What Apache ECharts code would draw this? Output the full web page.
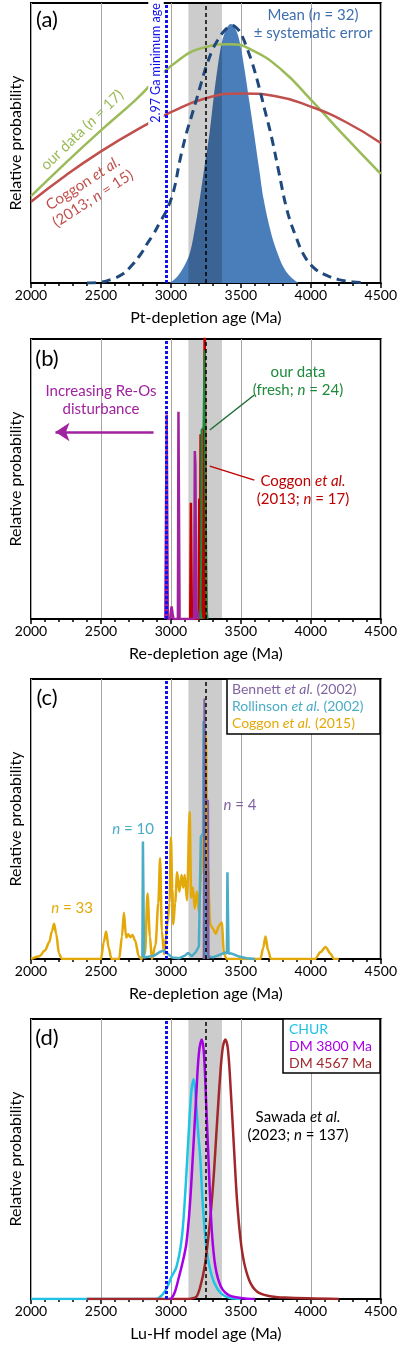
<!DOCTYPE html>
<html>
<head>
<meta charset="utf-8">
<script src="https://cdn.jsdelivr.net/npm/echarts@6/dist/echarts.min.js"></script>
<style>
  html, body { margin: 0; padding: 0; background: #fff; }
  #main { width: 400px; height: 1351px; }
</style>
</head>
<body>
<div id="main"></div>
<script>
const FONT = 'Lato, "Open Sans", sans-serif';

// x axis ticks (Ma)
const ageTicks = [2000, 2500, 3000, 3500, 4000, 4500];
const minAge = 2967;       // 2.97 Ga minimum age
const meanAge = 3248;      // dashed black line
const bandAge = [3125, 3365];

// (a) Pt-depletion ages
const aMeanAge = [2990, 3030, 3064, 3100, 3135, 3170, 3205, 3240, 3276, 3305, 3335, 3360, 3382, 3405, 3429, 3450, 3476, 3500, 3523, 3560, 3594, 3630, 3664, 3717, 3760, 3804, 3850, 3910];
const aMeanVal = [0, 0.015, 0.035, 0.065, 0.106, 0.19, 0.296, 0.415, 0.535, 0.66, 0.773, 0.85, 0.89, 0.915, 0.925, 0.915, 0.89, 0.84, 0.773, 0.65, 0.535, 0.41, 0.296, 0.177, 0.11, 0.057, 0.025, 0];
const aErrAge = [2400, 2500, 2570, 2650, 2710, 2780, 2830, 2876, 2925, 2970, 3020, 3065, 3111, 3150, 3182, 3220, 3252, 3295, 3335, 3390, 3441, 3480, 3511, 3550, 3582, 3630, 3670, 3720, 3770, 3830, 3890, 3950, 4020, 4100, 4200, 4300, 4400];
const aErrVal = [0, 0.003, 0.012, 0.03, 0.057, 0.1, 0.14, 0.175, 0.22, 0.26, 0.33, 0.44, 0.535, 0.6, 0.654, 0.72, 0.773, 0.83, 0.868, 0.905, 0.92, 0.905, 0.88, 0.83, 0.785, 0.7, 0.62, 0.52, 0.4, 0.26, 0.17, 0.1, 0.055, 0.03, 0.012, 0.004, 0];
const aGreenAge = [2000, 2250, 2500, 2750, 3000, 3250, 3420, 3580, 3794, 4000, 4250, 4500];
const aGreenVal = [0.31, 0.43, 0.545, 0.655, 0.775, 0.843, 0.853, 0.832, 0.76, 0.655, 0.52, 0.39];
const aRedAge = [2000, 2250, 2500, 2750, 3000, 3250, 3500, 3750, 4000, 4250, 4500];
const aRedVal = [0.29, 0.385, 0.47, 0.545, 0.61, 0.66, 0.677, 0.667, 0.63, 0.575, 0.5];

// (b) Re-depletion ages
const bPurpleAge = [2960, 2968, 2970, 2975, 2978, 2995, 3000, 3005, 3012, 3018, 3050, 3054, 3058, 3062, 3166, 3171, 3175, 3178, 3182, 3188, 3193, 3200];
const bPurpleVal = [0, 0, 0.73, 0.73, 0, 0, 0.03, 0.045, 0.02, 0, 0, 0.74, 0.74, 0, 0, 0.6, 0.55, 0.3, 0, 0.03, 0.01, 0];
const bRedAge = [3138, 3143, 3146, 3150, 3198, 3203, 3206, 3209, 3212, 3217, 3222, 3236, 3241, 3249, 3253];
const bRedVal = [0, 0.415, 0.415, 0, 0, 0.43, 0.05, 0.2, 0.66, 0.66, 0.05, 0, 1.05, 1.05, 0];
const bGreenAge = [3210, 3216, 3219, 3226, 3233, 3238, 3240, 3249, 3252, 3256, 3262];
const bGreenVal = [0, 0.2, 0.675, 0.68, 0.685, 0.69, 0.96, 0.96, 0.15, 0.04, 0];

// (c) Re-depletion ages, literature
const cGoldAge = [2000, 2060, 2100, 2130, 2150, 2165, 2180, 2200, 2220, 2500, 2520, 2537, 2555, 2575, 2630, 2650, 2664, 2680, 2695, 2710, 2725, 2745, 2770, 2790, 2815, 2833, 2850, 2864, 2890, 2910, 2923, 2935, 2951, 2965, 2975, 2990, 3000, 3010, 3017, 3030, 3045, 3060, 3076, 3088, 3099, 3115, 3134, 3145, 3158, 3170, 3186, 3200, 3215, 3232, 3250, 3262, 3281, 3299, 3320, 3345, 3363, 3380, 3400, 3640, 3660, 3676, 3695, 3715, 4030, 4070, 4105, 4140, 4165, 4200];
const cGoldVal = [0, 0.01, 0.03, 0.06, 0.1, 0.126, 0.09, 0.02, 0, 0, 0.06, 0.098, 0.04, 0, 0, 0.08, 0.165, 0.076, 0.088, 0.078, 0.086, 0.065, 0.01, 0, 0.02, 0.234, 0.08, 0, 0.05, 0.2, 0.36, 0.1, 0.017, 0.08, 0.124, 0.2, 0.434, 0.25, 0.124, 0.2, 0.31, 0.24, 0.3, 0.255, 0.3, 0.21, 0.525, 0.22, 0.255, 0.18, 0.24, 0.17, 0.3, 0.45, 0.8, 0.35, 0.124, 0.11, 0.09, 0.12, 0.13, 0.017, 0, 0, 0.04, 0.08, 0.03, 0, 0, 0.025, 0.043, 0.02, 0, 0];
const cTealAge = [2796, 2800, 2804, 2808, 2818, 2880, 2920, 2946, 2975, 3010, 3060, 3100, 3123, 3150, 3178, 3200, 3210, 3214, 3218, 3224, 3230, 3233, 3239, 3243, 3255, 3300, 3350, 3382, 3400, 3404, 3408, 3412, 3430, 3480, 3540, 3600];
const cTealVal = [0.005, 0.42, 0.42, 0.005, 0.005, 0.012, 0.025, 0.03, 0.02, 0.005, 0.003, 0.012, 0.022, 0.01, 0.025, 0.045, 0.04, 0.435, 0.44, 0.44, 0.45, 0.85, 0.85, 0.03, 0.01, 0.006, 0.015, 0.023, 0.02, 0.31, 0.31, 0.02, 0.02, 0.01, 0.003, 0];
const cPurpleAge = [3234, 3239, 3241, 3247, 3250, 3266, 3270];
const cPurpleVal = [0, 0.93, 0.935, 0.93, 0.566, 0.566, 0];

// (d) Lu-Hf model ages
const dCyanAge = [2000, 2900, 2923, 2946, 2975, 3005, 3040, 3076, 3099, 3123, 3146, 3163, 3177, 3194, 3210, 3229, 3252, 3276, 3311, 3358, 3417, 3500];
const dCyanVal = [0, 0, 0.008, 0.02, 0.044, 0.08, 0.115, 0.21, 0.35, 0.556, 0.74, 0.785, 0.72, 0.6, 0.5, 0.33, 0.19, 0.115, 0.056, 0.02, 0.004, 0];
const dMagAge = [2990, 3005, 3029, 3052, 3088, 3111, 3135, 3158, 3182, 3200, 3220, 3236, 3252, 3271, 3292, 3318, 3358, 3417, 3511, 3600];
const dMagVal = [0, 0.003, 0.026, 0.068, 0.14, 0.2, 0.33, 0.52, 0.735, 0.877, 0.927, 0.877, 0.7, 0.47, 0.246, 0.115, 0.044, 0.013, 0.003, 0];
const dBrownAge = [2400, 3100, 3150, 3182, 3210, 3241, 3276, 3304, 3328, 3351, 3370, 3389, 3408, 3429, 3453, 3476, 3511, 3559, 3617, 3700, 3815, 4200];
const dBrownVal = [0, 0, 0.002, 0.008, 0.044, 0.115, 0.26, 0.425, 0.615, 0.79, 0.895, 0.927, 0.89, 0.735, 0.52, 0.33, 0.163, 0.068, 0.026, 0.011, 0.005, 0];

const xNames = ['Pt-depletion age (Ma)', 'Re-depletion age (Ma)', 'Re-depletion age (Ma)', 'Lu-Hf model age (Ma)'];
const tops = [3, 339, 679, 1019];

function pairs(xs, ys) {
  return xs.map((x, i) => [x, ys[i]]);
}

function curve(g, xs, ys, color, width, extra) {
  return Object.assign({
    type: 'line', xAxisIndex: g, yAxisIndex: g,
    data: pairs(xs, ys), showSymbol: false, smooth: false, z: 3,
    lineStyle: { color: color, width: width }, silent: true, animation: false
  }, extra || {});
}

function band(g) {
  return {
    type: 'line', xAxisIndex: g, yAxisIndex: g, data: [], z: 2, silent: true, animation: false,
    markArea: { silent: true, z: 2, itemStyle: { color: 'rgba(0,0,0,0.2)' },
      data: [[{ xAxis: bandAge[0] }, { xAxis: bandAge[1] }]] }
  };
}

function refLines(g) {
  return {
    type: 'line', xAxisIndex: g, yAxisIndex: g, data: [], z: 6, silent: true, animation: false,
    markLine: { silent: true, z: 6, symbol: 'none', label: { show: false }, animation: false,
      data: [
        { xAxis: minAge, lineStyle: { color: '#1010f0', width: 3, type: [3, 2] } },
        { xAxis: meanAge, lineStyle: { color: '#000', width: 1.5, type: [4, 3] } }
      ] }
  };
}

function label(x, y, str, color, o) {
  o = o || {};
  const size = o.size || 15;
  return {
    type: 'text', x: x, y: y, z: o.z || 10, rotation: o.rot || 0, silent: true,
    style: {
      text: str, fill: color, fontSize: size, fontFamily: FONT,
      align: o.align || 'center', verticalAlign: 'middle',
      lineHeight: o.lh || size + 3,
      backgroundColor: o.bg, padding: o.pad,
      rich: { i: { fontStyle: 'italic', fontSize: size, fontFamily: FONT, fill: color, lineHeight: o.lh || size + 3 } }
    }
  };
}

const grids = [], xAxes = [], yAxes = [];
tops.forEach((t, i) => {
  grids.push({ left: 26, right: 19, top: t, height: 280, show: true, borderColor: '#000', borderWidth: 2 });
  xAxes.push({
    type: 'value', gridIndex: i, min: 2000, max: 4500, interval: 500,
    name: xNames[i], nameLocation: 'middle', nameGap: 27,
    nameTextStyle: { fontSize: 16, color: '#000', fontFamily: FONT },
    axisLine: { lineStyle: { color: '#000', width: 2 } },
    axisTick: { length: 5, lineStyle: { color: '#000', width: 1.5 } },
    minorTick: { show: true, splitNumber: 5, length: 3, lineStyle: { color: '#000', width: 1.5 } },
    axisLabel: { fontSize: 14, color: '#000', fontFamily: FONT, margin: 5,
      formatter: v => ageTicks.indexOf(v) >= 0 ? String(v) : '' },
    splitLine: { show: true, lineStyle: { color: '#a6a6a6', width: 1 } }
  });
  yAxes.push({
    type: 'value', gridIndex: i, min: 0, max: 1,
    name: 'Relative probability', nameLocation: 'middle', nameGap: 7,
    nameTextStyle: { fontSize: 16, color: '#000', fontFamily: FONT },
    axisLine: { show: false }, axisTick: { show: false }, axisLabel: { show: false },
    splitLine: { show: false }
  });
});

const series = [
  // (a)
  curve(0, aMeanAge, aMeanVal, '#4a7ebb', 0, { smooth: 0.4, z: 1, areaStyle: { color: '#4a7ebb', opacity: 1 } }),
  band(0),
  curve(0, aGreenAge, aGreenVal, '#9bbb59', 2.5, { smooth: 0.5 }),
  curve(0, aRedAge, aRedVal, '#c0504d', 2.5, { smooth: 0.5 }),
  curve(0, aErrAge, aErrVal, '#1f497d', 3, { smooth: 0.4, lineStyle: { color: '#1f497d', width: 3, type: [9, 6] } }),
  refLines(0),
  // (b)
  band(1),
  curve(1, bRedAge, bRedVal, '#c00000', 2.5),
  curve(1, bPurpleAge, bPurpleVal, '#a0229f', 2.5),
  curve(1, bGreenAge, bGreenVal, '#1e8a3c', 2, { areaStyle: { color: '#1e8a3c', opacity: 1 } }),
  refLines(1),
  {
    type: 'line', xAxisIndex: 1, yAxisIndex: 1, data: [], z: 7, silent: true, animation: false,
    markLine: { silent: true, z: 7, symbol: 'none', label: { show: false }, animation: false,
      data: [
        [{ coord: [2876, 0.668], symbol: 'none', lineStyle: { color: '#a0229f', width: 2.5, type: 'solid' } },
         { coord: [2175, 0.668], symbol: 'arrow', symbolSize: 14 }],
        [{ coord: [3596, 0.8], lineStyle: { color: '#1e6e34', width: 1.5, type: 'solid' } }, { coord: [3278, 0.675] }],
        [{ coord: [3596, 0.496], lineStyle: { color: '#c00000', width: 1.5, type: 'solid' } }, { coord: [3278, 0.546] }]
      ] }
  },
  // (c)
  band(2),
  curve(2, cGoldAge, cGoldVal, '#e3a90a', 2.5, { smooth: 0.3, smoothMonotone: 'x' }),
  curve(2, cTealAge, cTealVal, '#4bacc6', 2.5),
  curve(2, cPurpleAge, cPurpleVal, '#8064a2', 2, { areaStyle: { color: '#8064a2', opacity: 1 } }),
  refLines(2),
  // (d)
  band(3),
  curve(3, dCyanAge, dCyanVal, '#1fc3e6', 2.5, { smooth: 0.35 }),
  curve(3, dBrownAge, dBrownVal, '#a0282a', 2.5, { smooth: 0.35 }),
  curve(3, dMagAge, dMagVal, '#a800e6', 2.5, { smooth: 0.35 }),
  refLines(3)
];

const graphics = [
  // panel letters
  label(47, 20, '(a)', '#000', { size: 22 }),
  label(47, 359, '(b)', '#000', { size: 22 }),
  label(47, 698, '(c)', '#000', { size: 22 }),
  label(47, 1038, '(d)', '#000', { size: 22 }),
  // (a)
  label(156, 63, '2.97 Ga minimum age', '#1010f0', { size: 12.5, rot: Math.PI / 2, z: 4, bg: '#fff', pad: [0, 3, 0, 3] }),
  label(313, 24, 'Mean ({i|n} = 32)\n± systematic error', '#3f6fae', { size: 15, lh: 18 }),
  label(82, 130, 'our data ({i|n} = 17)', '#9bbb59', { size: 15, rot: 44 * Math.PI / 180 }),
  label(88, 191, 'Coggon {i|et al.}\n(2013; {i|n} = 15)', '#c0504d', { size: 15, lh: 18, rot: 33 * Math.PI / 180 }),
  // (b)
  label(298, 381, 'our data\n(fresh; {i|n} = 24)', '#1e8a3c', { size: 15, lh: 18 }),
  label(101, 400, 'Increasing Re-Os\ndisturbance', '#a0229f', { size: 15, lh: 18 }),
  label(303, 490, 'Coggon {i|et al.}\n(2013; {i|n} = 17)', '#c00000', { size: 15, lh: 18 }),
  // (c) legend
  { type: 'rect', z: 9, silent: true, shape: { x: 227, y: 679, width: 153, height: 55 },
    style: { fill: '#fff', stroke: '#000', lineWidth: 1.5 } },
  label(232, 689, 'Bennett {i|et al.} (2002)', '#8064a2', { size: 14, align: 'left' }),
  label(232, 706, 'Rollinson {i|et al.} (2002)', '#4bacc6', { size: 14, align: 'left' }),
  label(232, 723, 'Coggon {i|et al.} (2015)', '#e3a90a', { size: 14, align: 'left' }),
  label(240, 805, '{i|n} = 4', '#8064a2', { size: 15 }),
  label(133, 829, '{i|n} = 10', '#4bacc6', { size: 15 }),
  label(72, 908, '{i|n} = 33', '#e3a90a', { size: 15 }),
  // (d) legend
  { type: 'rect', z: 9, silent: true, shape: { x: 283, y: 1019, width: 97, height: 54 },
    style: { fill: '#fff', stroke: '#000', lineWidth: 1.5 } },
  label(289, 1029, 'CHUR', '#1fc3e6', { size: 14, align: 'left' }),
  label(289, 1046, 'DM 3800 Ma', '#a800e6', { size: 14, align: 'left' }),
  label(289, 1063, 'DM 4567 Ma', '#a0282a', { size: 14, align: 'left' }),
  label(298, 1126, 'Sawada {i|et al.}\n(2023; {i|n} = 137)', '#000', { size: 15, lh: 18 })
];

const chart = echarts.init(document.getElementById('main'), null, { renderer: 'canvas' });
chart.setOption({
  animation: false,
  backgroundColor: '#fff',
  textStyle: { fontFamily: FONT },
  grid: grids,
  xAxis: xAxes,
  yAxis: yAxes,
  series: series,
  graphic: graphics
});
</script>
</body>
</html>
